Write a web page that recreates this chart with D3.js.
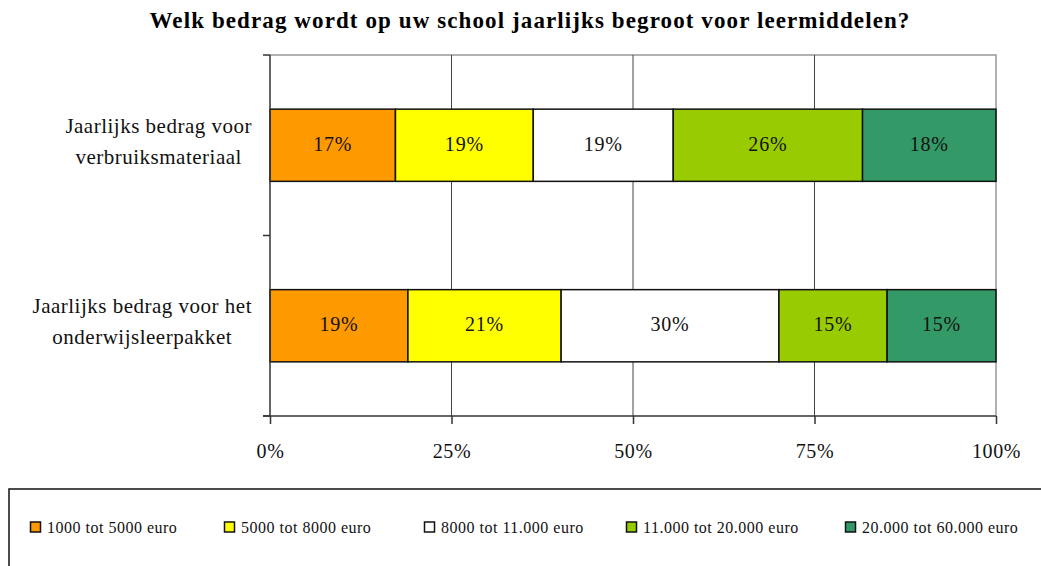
<!DOCTYPE html>
<html>
<head>
<meta charset="utf-8">
<script src="https://cdn.jsdelivr.net/npm/d3@7"></script>
<style>
  body { margin: 0; background: #fff; }
  svg { display: block; font-family: "Liberation Serif", "DejaVu Serif", serif; }
</style>
</head>
<body>
<svg id="chart" width="1041" height="566"></svg>
<script>
var title = "Welk bedrag wordt op uw school jaarlijks begroot voor leermiddelen?";

var categories = ["verbruik", "leerpakket"];
var categoryLabels = [
    ["Jaarlijks bedrag voor", "verbruiksmateriaal"],
    ["Jaarlijks bedrag voor het", "onderwijsleerpakket"]
];

var seriesNames = ["1000 tot 5000 euro", "5000 tot 8000 euro", "8000 tot 11.000 euro",
                   "11.000 tot 20.000 euro", "20.000 tot 60.000 euro"];
var seriesColors = ["#FF9900", "#FFFF00", "#FFFFFF", "#99CC00", "#339966"];

// shares per category (percent), order = seriesNames
var verbruikValues = [17.3, 19.0, 19.3, 26.1, 18.4];
var leerpakketValues = [19.0, 21.1, 30.0, 14.9, 15.0];

var xTicks = [0, 0.25, 0.5, 0.75, 1];

var svg = d3.select("#chart");

var margin = {left: 270, right: 45, top: 55, bottom: 150};
var width = 1041, height = 566;

var rows = [verbruikValues, leerpakketValues].map(function(vals, i) {
    var r = {cat: categories[i]};
    seriesNames.forEach(function(k, j) { r[k] = vals[j]; });
    return r;
});

var stack = d3.stack().keys(seriesNames).offset(d3.stackOffsetExpand);
var stacked = stack(rows);

var xScale = d3.scaleLinear()
    .domain([0, 1])
    .range([margin.left, width - margin.right]);

var yScale = d3.scaleBand()
    .domain(categories)
    .range([margin.top, height - margin.bottom])
    .paddingInner(0.6)
    .paddingOuter(0.3);

var x0 = xScale.range()[0], x1 = xScale.range()[1];
var y0 = yScale.range()[0], y1 = yScale.range()[1];

// title
svg.append("text")
    .attr("x", 530)
    .attr("y", 28)
    .attr("text-anchor", "middle")
    .style("font-size", "23px")
    .style("font-weight", "bold")
    .style("letter-spacing", "1.1px")
    .text(title);

// plot frame (top and right)
svg.append("path")
    .attr("d", "M" + x0 + "," + y0 + "H" + x1 + "V" + y1)
    .attr("fill", "none")
    .attr("stroke", "#999")
    .attr("stroke-width", 1.5);

// gridlines
svg.append("g")
    .selectAll("line")
    .data(xTicks.slice(1, -1))
    .enter()
    .append("line")
    .attr("x1", function(d) { return xScale(d); })
    .attr("x2", function(d) { return xScale(d); })
    .attr("y1", y0)
    .attr("y2", y1)
    .attr("stroke", "#444")
    .attr("stroke-width", 1);

// bars
var groups = svg.append("g")
    .selectAll("g")
    .data(stacked)
    .enter()
    .append("g")
    .attr("fill", function(d, i) { return seriesColors[i]; });

groups.selectAll("rect")
    .data(function(d) { return d; })
    .enter()
    .append("rect")
    .attr("x", function(d) { return xScale(d[0]); })
    .attr("width", function(d) { return xScale(d[1]) - xScale(d[0]); })
    .attr("y", function(d) { return yScale(d.data.cat); })
    .attr("height", yScale.bandwidth())
    .attr("stroke", "#111")
    .attr("stroke-width", 1.5);

groups.selectAll("text")
    .data(function(d) { return d; })
    .enter()
    .append("text")
    .attr("x", function(d) { return (xScale(d[0]) + xScale(d[1])) / 2; })
    .attr("y", function(d) { return yScale(d.data.cat) + yScale.bandwidth() / 2 + 5.5; })
    .attr("text-anchor", "middle")
    .attr("fill", "#111")
    .style("font-size", "20px")
    .style("letter-spacing", "0.8px")
    .text(function(d) { return Math.round((d[1] - d[0]) * 100) + "%"; });

// left axis line + ticks at band edges
var yTickPos = [y0, (y0 + y1) / 2, y1];
svg.append("line")
    .attr("x1", x0).attr("x2", x0)
    .attr("y1", y0).attr("y2", y1)
    .attr("stroke", "#333").attr("stroke-width", 1.5);
svg.append("g")
    .selectAll("line")
    .data(yTickPos)
    .enter()
    .append("line")
    .attr("x1", x0 - 7).attr("x2", x0)
    .attr("y1", function(d) { return d; })
    .attr("y2", function(d) { return d; })
    .attr("stroke", "#333").attr("stroke-width", 1.5);

// bottom axis
var xAxis = d3.axisBottom(xScale)
    .tickValues(xTicks)
    .tickSize(8)
    .tickPadding(20)
    .tickFormat(d3.format(".0%"));

var gx = svg.append("g")
    .attr("transform", "translate(0," + y1 + ")")
    .call(xAxis);
gx.select(".domain").attr("stroke", "#333").attr("stroke-width", 1.5)
    .attr("d", "M" + (x0 - 7) + ",0H" + x1);
gx.selectAll(".tick line").attr("stroke", "#333").attr("stroke-width", 1.5);
gx.selectAll(".tick text")
    .style("font-family", "Liberation Serif, serif")
    .style("font-size", "20px")
    .style("letter-spacing", "0.6px")
    .attr("fill", "#111");

// category labels (two lines, centred, block right-aligned)
var lineOffsets = [-12.5, 18.5];
categories.forEach(function(c, i) {
    var cy = yScale(c) + yScale.bandwidth() / 2;
    var t = svg.append("text")
        .attr("text-anchor", "middle")
        .style("font-size", "21px")
        .style("letter-spacing", "0.5px")
        .attr("fill", "#111");
    var spans = categoryLabels[i].map(function(line, j) {
        return t.append("tspan")
            .attr("y", cy + lineOffsets[j])
            .text(line);
    });
    var w = d3.max(spans, function(s) { return s.node().getComputedTextLength(); });
    spans.forEach(function(s) { s.attr("x", 252 - w / 2); });
});

// legend
var legend = svg.append("g");
legend.append("rect")
    .attr("x", 9).attr("y", 489)
    .attr("width", 1100).attr("height", 200)
    .attr("fill", "none")
    .attr("stroke", "#111")
    .attr("stroke-width", 1.5);

var legendX = [30, 224, 424, 626, 845];
var items = legend.selectAll("g.item")
    .data(seriesNames)
    .enter()
    .append("g")
    .attr("class", "item")
    .attr("transform", function(d, i) { return "translate(" + legendX[i] + ",527)"; });

items.append("rect")
    .attr("x", 0.5).attr("y", -5)
    .attr("width", 10).attr("height", 10)
    .attr("fill", function(d, i) { return seriesColors[i]; })
    .attr("stroke", "#111")
    .attr("stroke-width", 1.5);

items.append("text")
    .attr("x", 17)
    .attr("y", 5.5)
    .style("font-size", "16px")
    .style("letter-spacing", "0.5px")
    .attr("fill", "#111")
    .text(function(d) { return d; });
</script>
</body>
</html>
